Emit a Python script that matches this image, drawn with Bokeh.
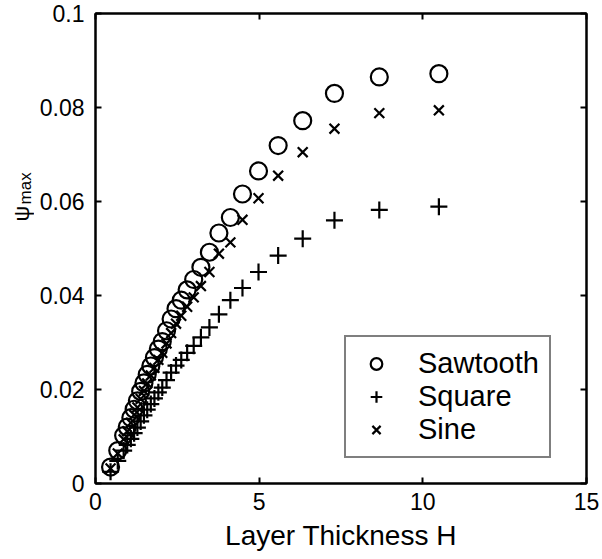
import math
from bokeh.plotting import figure
from bokeh.layouts import row
from bokeh.models import (FixedTicker, LinearAxis, Label, Legend, LegendItem, Range1d)
from bokeh.embed import file_html
from bokeh.resources import INLINE

# Layer thickness H (shared by all three profiles)
thickness = [0.46, 0.68, 0.86, 0.97, 1.08, 1.18, 1.28, 1.38, 1.48, 1.58, 1.69,
             1.80, 1.92, 2.04, 2.17, 2.31, 2.46, 2.62, 2.80, 3.00, 3.22, 3.48,
             3.77, 4.12, 4.49, 4.98, 5.58, 6.33, 7.30, 8.67, 10.49]

# Maximum streamfunction for each forcing profile
psi_sawtooth = [0.0035, 0.0070, 0.0102, 0.0120, 0.0140, 0.0158, 0.0176, 0.0196,
                0.0214, 0.0232, 0.0250, 0.0268, 0.0286, 0.0302, 0.0325, 0.0350,
                0.0372, 0.0390, 0.0412, 0.0434, 0.0460, 0.0492, 0.0533, 0.0566,
                0.0616, 0.0665, 0.0719, 0.0772, 0.0830, 0.0865, 0.0872]
psi_square = [0.0025, 0.0048, 0.0070, 0.0082, 0.0095, 0.0107, 0.0119, 0.0132,
              0.0145, 0.0157, 0.0169, 0.0181, 0.0194, 0.0204, 0.0220, 0.0236,
              0.0251, 0.0263, 0.0278, 0.0293, 0.0311, 0.0332, 0.0360, 0.0390,
              0.0416, 0.0450, 0.0485, 0.0521, 0.0560, 0.0582, 0.0589]
psi_sine = [0.0032, 0.0064, 0.0094, 0.0111, 0.0129, 0.0146, 0.0162, 0.0180,
            0.0197, 0.0213, 0.0230, 0.0246, 0.0263, 0.0278, 0.0298, 0.0320,
            0.0340, 0.0357, 0.0376, 0.0396, 0.0420, 0.0450, 0.0489, 0.0513,
            0.0561, 0.0607, 0.0655, 0.0705, 0.0755, 0.0788, 0.0794]

x_ticks = [0, 5, 10, 15]
y_ticks = [0, 0.02, 0.04, 0.06, 0.08, 0.1]
y_tick_labels = {0: "0", 0.02: "0.02", 0.04: "0.04", 0.06: "0.06", 0.08: "0.08", 0.1: "0.1"}

FONT = "Liberation Sans"
TOTAL_W, TOTAL_H = 602, 559
LABEL_W = 34  # narrow strip holding the rotated y-axis title

p = figure(width=TOTAL_W - LABEL_W, height=TOTAL_H, output_backend="svg",
           toolbar_location=None, x_range=Range1d(0, 15), y_range=Range1d(0, 0.1),
           min_border_left=95 - LABEL_W, min_border_right=16, min_border_top=13,
           min_border_bottom=76)
p.background_fill_color = "white"
p.border_fill_color = "white"
p.grid.visible = False
p.outline_line_color = "black"
p.outline_line_width = 2

def style_axis(ax, show_labels):
    ax.axis_line_color = "black"
    ax.axis_line_width = 2
    ax.major_tick_in = 6
    ax.major_tick_out = 0
    ax.major_tick_line_width = 2
    ax.minor_tick_line_color = None
    ax.major_label_text_font = FONT
    ax.major_label_text_font_size = "23px"
    ax.major_label_text_color = "black"
    ax.major_label_standoff = 11
    if not show_labels:
        ax.major_label_text_font_size = "0px"
        ax.major_label_standoff = 0

xa = p.xaxis[0]
ya = p.yaxis[0]
xa.ticker = FixedTicker(ticks=x_ticks)
ya.ticker = FixedTicker(ticks=y_ticks)
ya.major_label_overrides = y_tick_labels
style_axis(xa, True)
style_axis(ya, True)
xa.major_label_standoff = 9
xa.axis_label = "Layer Thickness H"
xa.axis_label_text_font = FONT
xa.axis_label_text_font_size = "28px"
xa.axis_label_text_font_style = "normal"
xa.axis_label_text_color = "black"
xa.axis_label_standoff = 7

top = LinearAxis(ticker=FixedTicker(ticks=x_ticks))
right = LinearAxis(ticker=FixedTicker(ticks=y_ticks))
style_axis(top, False)
style_axis(right, False)
p.add_layout(top, "above")
p.add_layout(right, "right")

r_saw = p.scatter(thickness, psi_sawtooth, marker="circle", size=17,
                  fill_color=None, line_color="black", line_width=2.2)
r_sq = p.scatter(thickness, psi_square, marker="cross", size=17,
                 line_color="black", line_width=2.2)
r_sin = p.scatter(thickness, psi_sine, marker="x", size=14,
                  line_color="black", line_width=2.2)

legend = Legend(items=[LegendItem(label="Sawtooth", renderers=[r_saw]),
                       LegendItem(label="Square", renderers=[r_sq]),
                       LegendItem(label="Sine", renderers=[r_sin])],
                location=(249, 25))
legend.label_text_font = FONT
legend.label_text_font_size = "29px"
legend.label_text_color = "black"
legend.border_line_color = "black"
legend.border_line_width = 2
legend.padding = 10
legend.spacing = 0
legend.margin = 0
legend.glyph_width = 40
legend.glyph_height = 29
legend.label_height = 29
legend.label_standoff = 22
p.add_layout(legend)

# Left strip sharing the psi scale, so the rotated title sits beside the axis
strip = figure(width=LABEL_W, height=TOTAL_H, output_backend="svg",
               toolbar_location=None, x_range=Range1d(0, LABEL_W),
               y_range=p.y_range, x_axis_location=None,
               y_axis_location=None, min_border=0,
               min_border_top=13, min_border_bottom=76)
strip.grid.visible = False
strip.outline_line_color = None
strip.background_fill_color = "white"
strip.border_fill_color = "white"
strip.add_layout(Label(x=21, y=0.0574, text="ψ", angle=math.pi / 2,
                       text_font=FONT, text_font_size="22px", text_color="black",
                       text_align="center", text_baseline="alphabetic"))
strip.add_layout(Label(x=25, y=0.0628, text="max", angle=math.pi / 2,
                       text_font=FONT, text_font_size="17px", text_color="black",
                       text_align="center", text_baseline="alphabetic"))

layout = row(strip, p)
open("out.html", "w").write(file_html(layout, INLINE))
